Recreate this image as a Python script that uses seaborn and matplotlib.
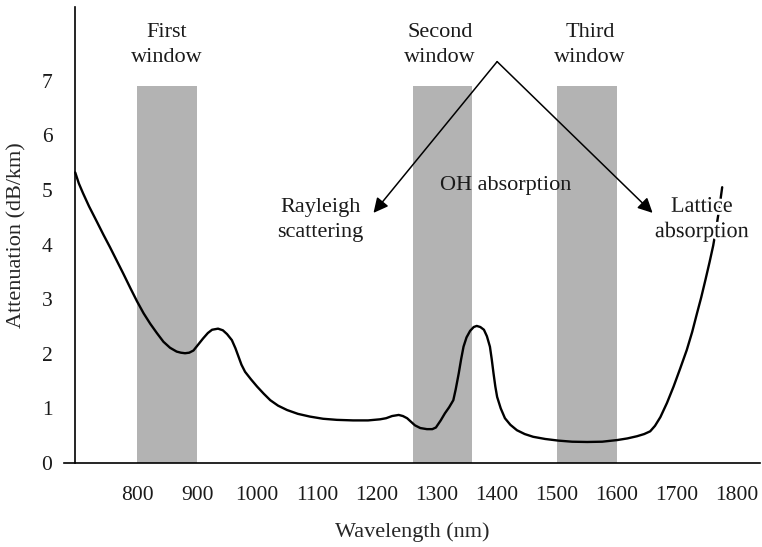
import matplotlib
matplotlib.use("Agg")
import matplotlib.pyplot as plt
import matplotlib.patheffects as pe
import seaborn as sns
import pandas as pd

# ---- data ----
wavelength = [697, 703, 710, 720, 733, 744, 755, 766, 777, 789, 800, 811, 822, 833,
              844, 855, 866, 873, 880, 887, 894, 902, 910, 918, 925, 935, 943, 950,
              958, 964, 969, 974, 980, 990, 1000, 1011, 1022, 1035, 1050, 1068, 1088,
              1110, 1133, 1160, 1185, 1205, 1215, 1225, 1236, 1243, 1250, 1257, 1263,
              1272, 1283, 1292, 1298, 1306, 1313, 1320, 1327, 1331, 1336, 1340, 1344,
              1349, 1355, 1361, 1366, 1372, 1378, 1383, 1388, 1391, 1394, 1397, 1400,
              1406, 1413, 1422, 1433, 1446, 1460, 1480, 1502, 1525, 1550, 1575, 1600,
              1617, 1633, 1645, 1655, 1663, 1672, 1683, 1694, 1705, 1716, 1725, 1733,
              1740, 1747, 1754, 1760, 1765, 1770, 1775]
attenuation = [5.32, 5.12, 4.94, 4.70, 4.42, 4.18, 3.95, 3.71, 3.47, 3.20, 2.96, 2.74,
               2.55, 2.38, 2.22, 2.11, 2.04, 2.02, 2.01, 2.02, 2.06, 2.17, 2.28, 2.38,
               2.44, 2.46, 2.43, 2.36, 2.25, 2.10, 1.95, 1.80, 1.67, 1.53, 1.40, 1.27,
               1.15, 1.05, 0.97, 0.90, 0.85, 0.81, 0.79, 0.78, 0.78, 0.80, 0.82, 0.86,
               0.88, 0.86, 0.82, 0.75, 0.69, 0.64, 0.62, 0.62, 0.65, 0.78, 0.91, 1.02,
               1.15, 1.35, 1.64, 1.90, 2.13, 2.30, 2.42, 2.49, 2.51, 2.49, 2.44, 2.32,
               2.13, 1.90, 1.64, 1.40, 1.21, 1.00, 0.82, 0.70, 0.60, 0.53, 0.48, 0.44,
               0.41, 0.39, 0.385, 0.39, 0.42, 0.45, 0.49, 0.53, 0.58, 0.68, 0.84, 1.10,
               1.40, 1.73, 2.07, 2.40, 2.74, 3.03, 3.35, 3.68, 3.98, 4.30, 4.65, 5.05]

band_start = [800, 1260, 1500]
band_end = [900, 1358, 1600]
band_top = 6.9
band_labels = ["First\nwindow", "Second\nwindow", "Third\nwindow"]
band_label_x = [850, 1305, 1555]

x_ticks = [697, 800, 900, 1000, 1100, 1200, 1300, 1400, 1500, 1600, 1700, 1800]
x_tick_labels = ["", "800", "900", "1000", "1100", "1200", "1300", "1400",
                 "1500", "1600", "1700", "1800"]
y_ticks = [0, 1, 2, 3, 4, 5, 6, 7]

sns.set_theme(style="white")
plt.rcParams["font.family"] = ["Liberation Serif", "DejaVu Serif"]
plt.rcParams["text.color"] = "#1a1a1a"

fig = plt.figure(figsize=(7.62, 5.47), dpi=100)
ax = fig.add_axes([64 / 762, 84 / 547, 696 / 762, 456 / 547])
ax.set_xlim(678.3, 1838)
ax.set_ylim(0, 8.35)

for s, e in zip(band_start, band_end):
    ax.fill_between([s, e], 0, band_top, color="#b3b3b3", lw=0, zorder=1)

df = pd.DataFrame({"Wavelength (nm)": wavelength, "Attenuation (dB/km)": attenuation})
sns.lineplot(data=df, x="Wavelength (nm)", y="Attenuation (dB/km)", color="black",
             lw=1.7, sort=False, estimator=None, ax=ax, zorder=3,
             solid_joinstyle="round", solid_capstyle="round")

fs = 16
ls = 1.45
stroke = [pe.withStroke(linewidth=4, foreground="white")]
for lab, x in zip(band_labels, band_label_x):
    ax.text(x, 7.65, lab, ha="center", va="center", fontsize=fs, linespacing=ls, zorder=5)

ax.text(1415, 5.09, "OH absorption", ha="center", va="center", fontsize=fs, zorder=5)
ax.text(1105, 4.45, "Rayleigh\nscattering", ha="center", va="center", fontsize=fs,
        linespacing=ls, zorder=5)
ax.text(1741, 4.45, "Lattice\nabsorption", ha="center", va="center", fontsize=fs,
        linespacing=ls, zorder=5, path_effects=stroke)

apex = (1400, 7.35)
for tip in [(1194, 4.58), (1659, 4.58)]:
    ax.annotate("", xy=tip, xytext=apex,
                arrowprops=dict(arrowstyle="-|>", color="black", lw=1.1,
                                mutation_scale=22, shrinkA=0, shrinkB=0),
                zorder=4)

for side in ["top", "right"]:
    ax.spines[side].set_visible(False)
ax.spines["left"].set_position(("data", 697))
for side in ["left", "bottom"]:
    ax.spines[side].set_color("black")
    ax.spines[side].set_linewidth(1.2)
    ax.spines[side].set_zorder(6)

ax.set_xticks(x_ticks)
ax.set_xticklabels(x_tick_labels)
ax.set_yticks(y_ticks)
ax.tick_params(axis="both", direction="inout", length=13, width=1.2, color="black",
               labelsize=15.5, labelcolor="#1a1a1a")
ax.tick_params(axis="x", pad=10)
ax.tick_params(axis="y", pad=10)

ax.set_xlabel("Wavelength (nm)", fontsize=fs)
ax.set_ylabel("Attenuation (dB/km)", fontsize=fs)
ax.xaxis.set_label_coords(0.5, -0.151)
ax.yaxis.set_label_coords(-0.068, 0.5)
ax.xaxis.label.set_va("center")
ax.yaxis.label.set_va("center")

fig.savefig("out.png", dpi=100)
